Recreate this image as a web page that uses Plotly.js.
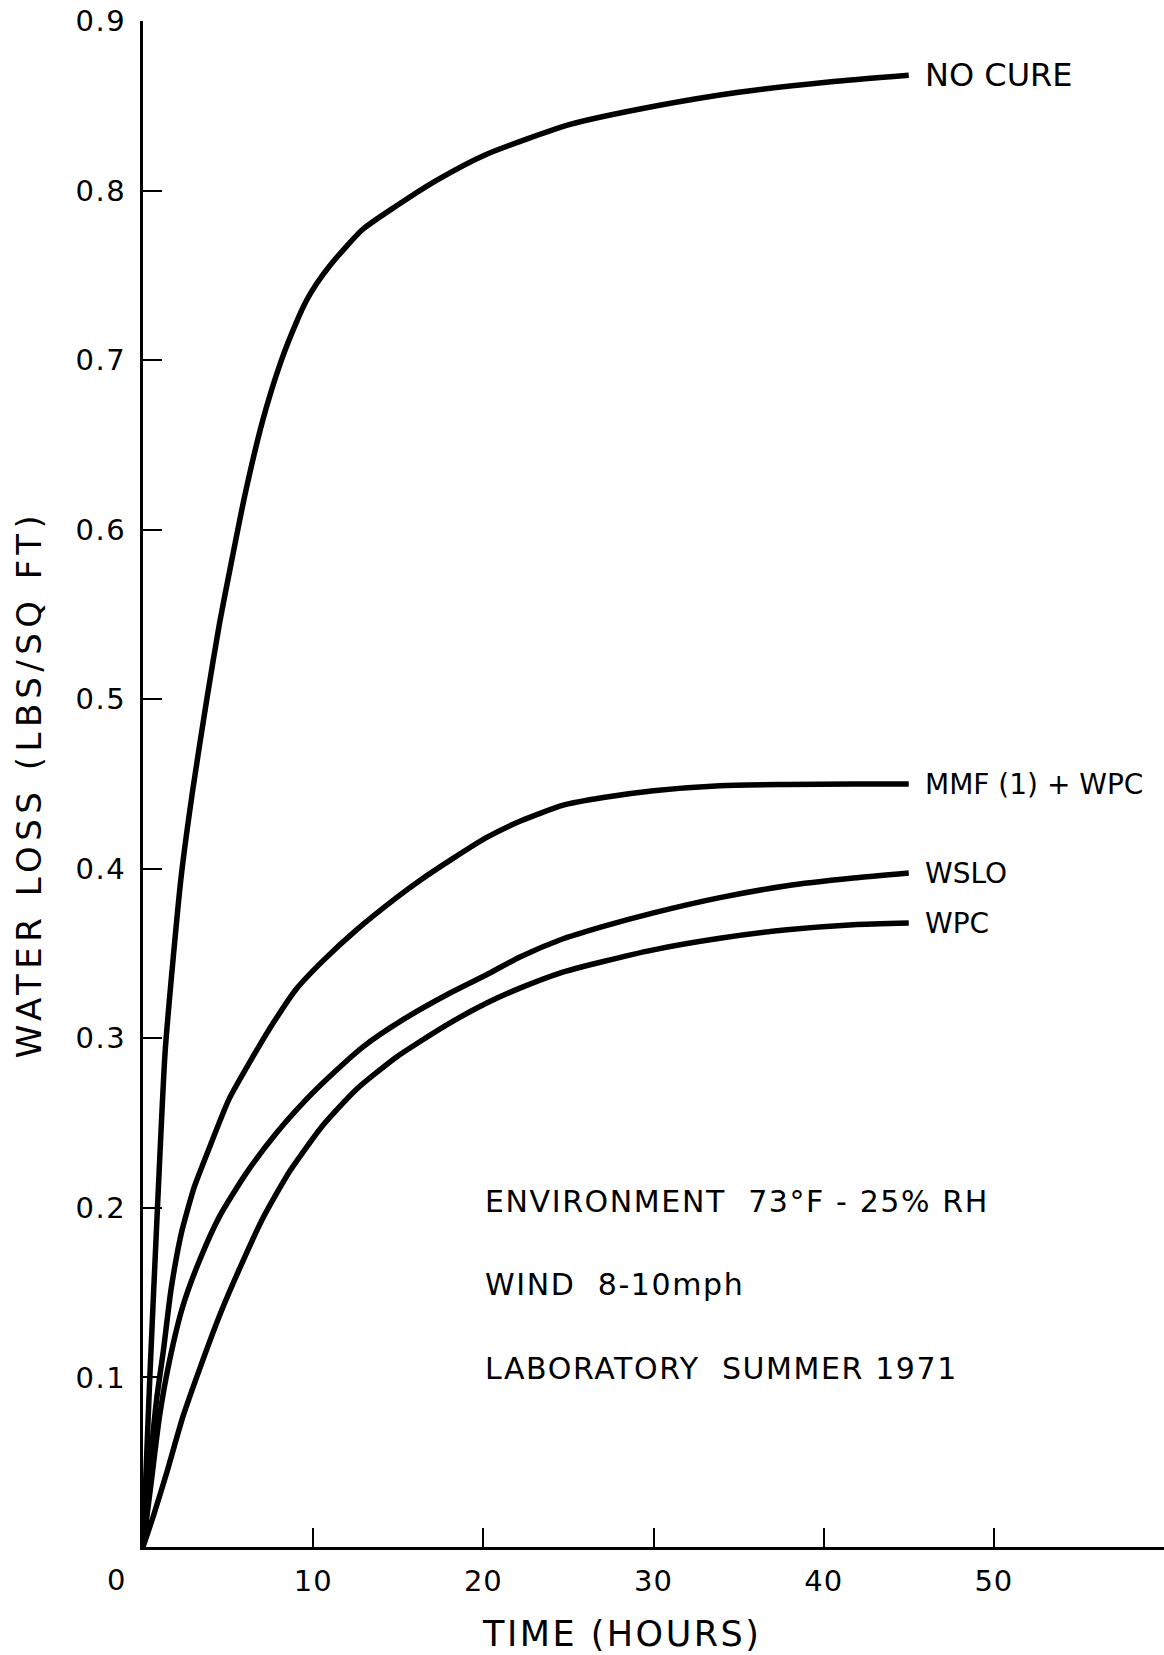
<!DOCTYPE html>
<html>
<head>
<meta charset="utf-8">
<script src="https://cdn.plot.ly/plotly-3.0.1.min.js"></script>
<style>
  html, body { margin: 0; padding: 0; background: #ffffff; }
  #chart { width: 1164px; height: 1655px; }
</style>
</head>
<body>
<div id="chart"></div>
<script>
// Water loss (lbs/sq ft) against elapsed time (hours) for each curing treatment
const hoursNoCure = [0, 0.4, 0.85, 1.3, 1.78, 2.25, 2.93, 3.75, 4.5, 5.1, 6.0, 7.05, 8.1, 9.0, 9.6, 10.2, 11.0, 12.9, 14.9, 17.25, 20.1, 25.1, 30.2, 35.0, 40.3, 45.0];
const lossNoCure  = [0, 0.1, 0.2, 0.292, 0.348, 0.396, 0.447, 0.5, 0.545, 0.576, 0.621, 0.665, 0.699, 0.722, 0.735, 0.745, 0.756, 0.777, 0.791, 0.806, 0.821, 0.839, 0.850, 0.858, 0.864, 0.868];

const hoursMmf = [0, 0.4, 0.8, 1.2, 1.65, 2.25, 2.65, 3.0, 4.0, 5.05, 6.45, 7.65, 9.0, 10.6, 12.55, 14.9, 16.25, 18.2, 20.2, 22.15, 24.7, 27.05, 30.0, 33.9, 37.8, 41.75, 45.0];
const lossMmf  = [0, 0.047, 0.087, 0.116, 0.152, 0.185, 0.200, 0.212, 0.238, 0.264, 0.289, 0.309, 0.329, 0.346, 0.364, 0.383, 0.393, 0.406, 0.4185, 0.428, 0.4375, 0.442, 0.446, 0.449, 0.4497, 0.450, 0.450];

const hoursWslo = [0, 0.48, 0.97, 1.56, 2.34, 3.32, 4.5, 6.07, 7.83, 9.6, 10.97, 12.93, 15.28, 18.1, 20.19, 22.15, 24.5, 27.05, 30.0, 33.9, 37.84, 41.75, 45.0];
const lossWslo  = [0, 0.038, 0.077, 0.110, 0.142, 0.169, 0.195, 0.2205, 0.244, 0.264, 0.2775, 0.295, 0.311, 0.327, 0.3375, 0.348, 0.358, 0.366, 0.374, 0.383, 0.390, 0.3945, 0.3975];

const hoursWpc = [0, 0.6, 1.4, 2.35, 3.4, 4.6, 5.8, 7.05, 8.65, 10.6, 12.55, 14.9, 16.26, 18.2, 20.2, 22.15, 24.5, 27.05, 30.0, 33.9, 37.84, 41.75, 45.0];
const lossWpc  = [0, 0.018, 0.044, 0.077, 0.107, 0.139, 0.167, 0.194, 0.222, 0.249, 0.270, 0.289, 0.298, 0.310, 0.3208, 0.3296, 0.3385, 0.3453, 0.3522, 0.359, 0.364, 0.367, 0.368];

const seriesNames = ['NO CURE', 'MMF (1) + WPC', 'WSLO', 'WPC'];
const seriesHours = [hoursNoCure, hoursMmf, hoursWslo, hoursWpc];
const seriesLoss  = [lossNoCure, lossMmf, lossWslo, lossWpc];

const yTickValues = [0.1, 0.2, 0.3, 0.4, 0.5, 0.6, 0.7, 0.8, 0.9];
const yTickLabels = ['0.1', '0.2', '0.3', '0.4', '0.5', '0.6', '0.7', '0.8', '0.9'];
const xTickValues = [10, 20, 30, 40, 50];
const xTickLabels = ['10', '20', '30', '40', '50'];

const noteLines = [
  'ENVIRONMENT\u00a0\u00a073\u00b0F - 25% RH',
  'WIND\u00a0\u00a08-10mph',
  'LABORATORY\u00a0\u00a0SUMMER 1971'
];
const noteLevels = [0.204, 0.155, 0.105];

const FONT = 'DejaVu Sans, Liberation Sans, sans-serif';
const INK = '#000000';

function spaced(text, px) {
  return '<span style="letter-spacing:' + px + 'px">' + text + '</span>';
}

const traces = seriesNames.map((name, i) => ({
  type: 'scatter',
  mode: 'lines',
  name: name,
  x: seriesHours[i],
  y: seriesLoss[i],
  line: { color: INK, width: 5.5, shape: 'spline', smoothing: 0.6 },
  hoverinfo: 'skip'
}));

const annotations = [];

// curve labels at the right-hand end of each curve
seriesNames.forEach((name, i) => {
  const h = seriesHours[i];
  const l = seriesLoss[i];
  annotations.push({
    xref: 'x', yref: 'y',
    x: h[h.length - 1], y: l[l.length - 1],
    xanchor: 'left', yanchor: 'middle',
    xshift: 14,
    text: name,
    showarrow: false,
    font: { family: FONT, size: i === 0 ? 32 : 28, color: INK }
  });
});

// test conditions
noteLines.forEach((line, i) => {
  annotations.push({
    xref: 'x', yref: 'y',
    x: 20, y: noteLevels[i],
    xanchor: 'left', yanchor: 'middle',
    text: spaced(line, 1.6),
    showarrow: false,
    font: { family: FONT, size: 30, color: INK }
  });
});

// origin label sits left of the corner
annotations.push({
  xref: 'paper', yref: 'y',
  x: -0.0264, y: 0,
  xanchor: 'center', yanchor: 'middle',
  yshift: -33,
  text: '0',
  showarrow: false,
  font: { family: FONT, size: 29, color: INK }
});

// horizontal axis title
annotations.push({
  xref: 'paper', yref: 'paper',
  x: 0.4687, y: 0,
  xanchor: 'center', yanchor: 'middle',
  yshift: -87,
  text: spaced('TIME (HOURS)', 2.5),
  showarrow: false,
  font: { family: FONT, size: 35, color: INK }
});

const layout = {
  width: 1164,
  height: 1655,
  paper_bgcolor: '#ffffff',
  plot_bgcolor: '#ffffff',
  showlegend: false,
  margin: { l: 143, r: 0, t: 21, b: 108, pad: 0 },
  font: { family: FONT, color: INK },
  xaxis: {
    range: [0, 60],
    showgrid: false,
    zeroline: false,
    showline: true,
    linecolor: INK,
    linewidth: 2.5,
    ticks: 'inside',
    ticklen: 19,
    tickwidth: 2,
    tickcolor: INK,
    tickvals: xTickValues,
    ticktext: xTickLabels.map(t => spaced(t, 1)),
    ticklabelstandoff: 7,
    tickfont: { family: FONT, size: 29, color: INK },
    fixedrange: true
  },
  yaxis: {
    range: [0, 0.9],
    showgrid: false,
    zeroline: false,
    showline: true,
    linecolor: INK,
    linewidth: 3,
    ticks: 'inside',
    ticklen: 19,
    tickwidth: 2,
    tickcolor: INK,
    tickvals: yTickValues,
    ticktext: yTickLabels.map(t => spaced(t, 1.5)),
    ticklabelstandoff: 8,
    tickfont: { family: FONT, size: 29, color: INK },
    title: {
      text: spaced('WATER LOSS (LBS/SQ FT)', 5.5),
      font: { family: FONT, size: 34, color: INK },
      standoff: 24
    },
    automargin: false,
    fixedrange: true
  },
  annotations: annotations
};

Plotly.newPlot('chart', traces, layout, { displayModeBar: false, staticPlot: true });
</script>
</body>
</html>
